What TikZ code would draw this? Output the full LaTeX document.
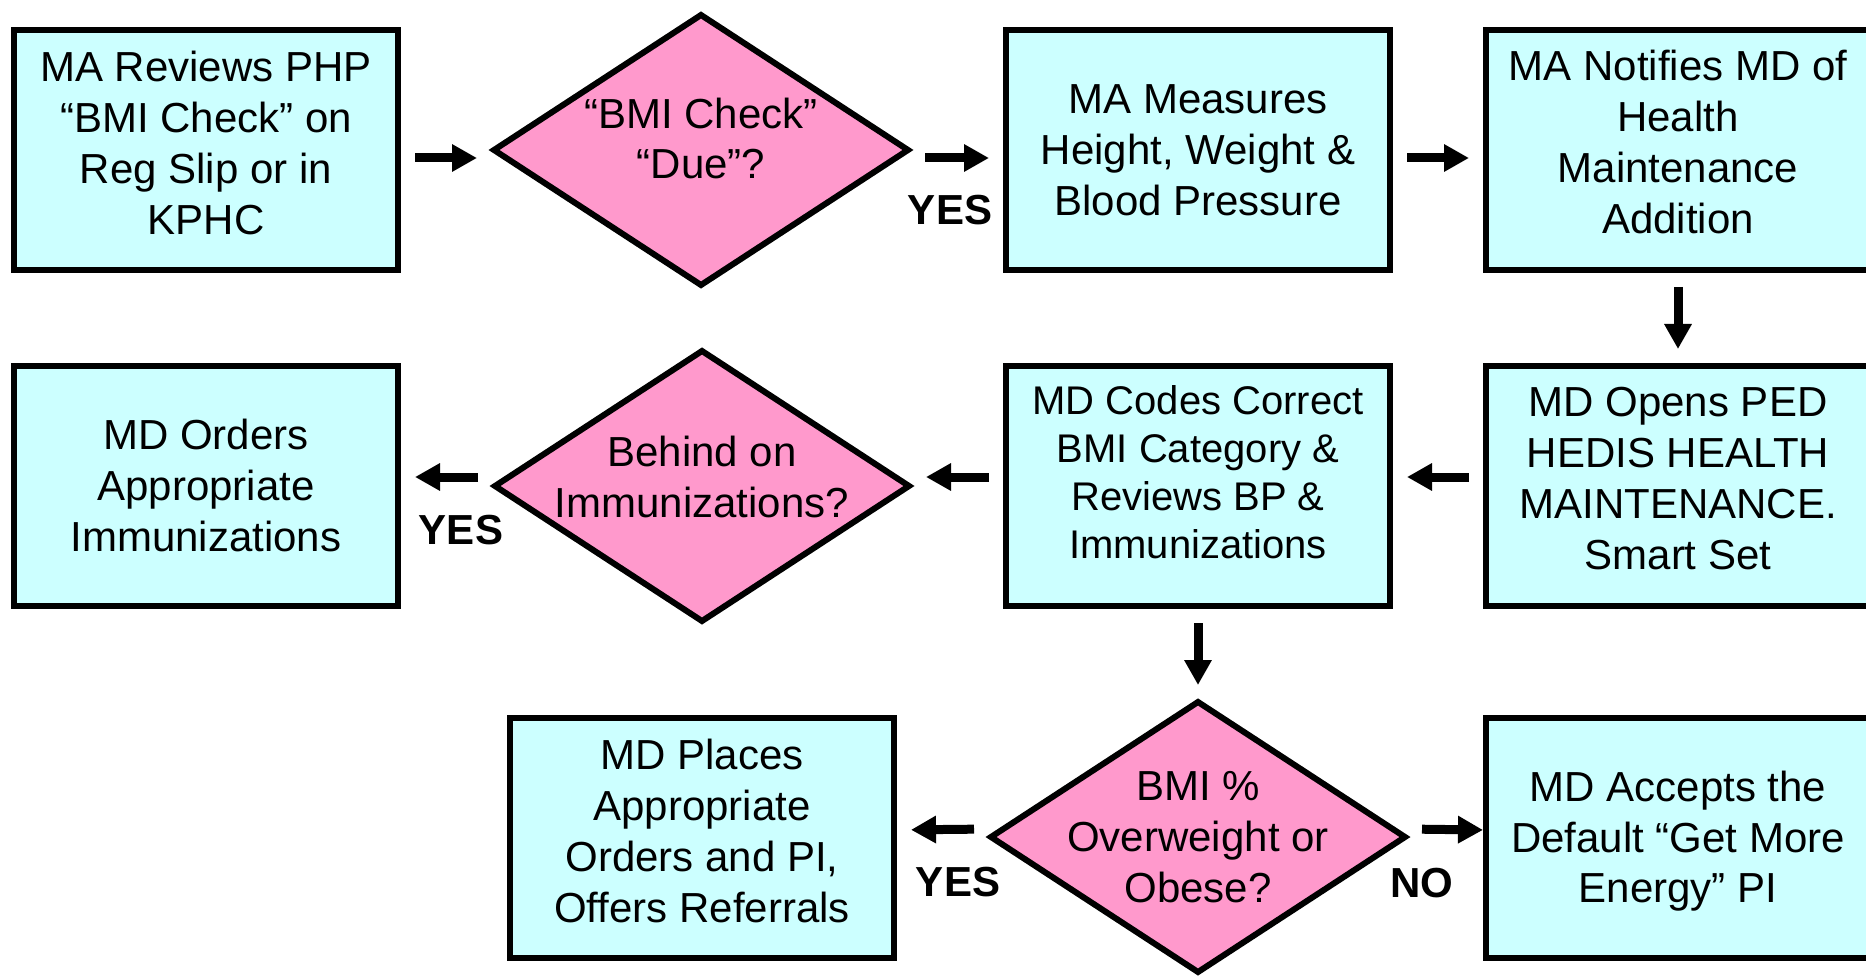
\documentclass[tikz,border=0pt]{standalone}
\usepackage{fontspec}
\setmainfont{Liberation Sans}
\usetikzlibrary{shapes.geometric,arrows.meta}
\definecolor{boxcyan}{HTML}{CCFFFF}
\definecolor{decpink}{HTML}{FF99CC}
\begin{document}
\begin{tikzpicture}[x=1pt,y=-1pt,
  box/.style={draw=black, line width=6pt, fill=boxcyan, rectangle, minimum width=384pt, minimum height=240pt, inner sep=0pt, outer sep=0pt},
  dia/.style={draw=black, line width=6pt, fill=decpink, diamond, minimum width=414pt, minimum height=270pt, inner sep=0pt, outer sep=0pt},
  txt/.style={align=center, inner sep=0pt, outer sep=0pt, font=\fontsize{42}{51}\selectfont},
  lbl/.style={inner sep=0pt, outer sep=0pt, anchor=base, font=\fontsize{42}{51}\selectfont\bfseries},
  arr/.style={line width=9pt, -{Triangle[length=25pt,width=26pt]}, shorten <=17pt, shorten >=17pt}]
\useasboundingbox (0,0) rectangle (1866,976);
\fill[white] (0,0) rectangle (1866,976);

% row 1
\node[box] (A) at (206,150) {};
\node[txt] (At) at ([yshift=7.5pt]A.center) {MA Reviews PHP\\“BMI Check” on\\Reg Slip or in\\KPHC};
\node[dia] (B) at (701,150) {};
\node[txt, font=\fontsize{42}{50}\selectfont] (Bt) at ([yshift=12pt]B.center) {“BMI Check”\\“Due”?};
\node[box] (C) at (1198,150) {};
\node[txt] (Ct) at (C.center) {MA Measures\\Height, Weight \&\\Blood Pressure};
\node[box] (D) at (1678,150) {};
\node[txt] (Dt) at ([yshift=8.5pt]D.center) {MA Notifies MD of\\Health\\Maintenance\\Addition};

% row 2
\node[box] (E) at (206,486) {};
\node[txt] (Et) at ([yshift=1pt]E.center) {MD Orders\\Appropriate\\Immunizations};
\node[dia] (F) at (702,486) {};
\node[txt] (Ft) at ([yshift=9.5pt]F.center) {Behind on\\Immunizations?};
\node[box] (G) at (1198,486) {};
\node[txt, font=\fontsize{40}{48}\selectfont] (Gt) at ([yshift=13.5pt]G.center) {MD Codes Correct\\BMI Category \&\\Reviews BP \&\\Immunizations};
\node[box] (H) at (1678,486) {};
\node[txt] (Ht) at ([yshift=7.5pt]H.center) {MD Opens PED\\HEDIS HEALTH\\MAINTENANCE.\\Smart Set};

% row 3
\node[box] (I) at (702,838) {};
\node[txt] (It) at ([yshift=7.5pt]I.center) {MD Places\\Appropriate\\Orders and PI,\\Offers Referrals};
\node[dia] (J) at (1198,837) {};
\node[txt] (Jt) at ([yshift=0pt]J.center) {BMI \%\\Overweight or\\Obese?};
\node[box] (K) at (1678,838) {};
\node[txt, font=\fontsize{42}{50.5}\selectfont] (Kt) at ([yshift=-3.5pt]K.center) {MD Accepts the\\Default “Get More\\Energy” PI};

% labels
\node[lbl] (y1) at (950,225) {YES};
\node[lbl] (y2) at (461,544) {YES};
\node[lbl] (y3) at (958,896) {YES};
\node[lbl] (n1) at (1422,897) {NO};

% connectors
\draw[arr] ([yshift=-8pt]A.east) -- ([yshift=-8pt]B.west);
\draw[arr] ([yshift=-8pt]B.east) -- ([yshift=-8pt]C.west);
\draw[arr] ([yshift=-8pt]C.east) -- ([yshift=-8pt]D.west);
\draw[arr] (D.south) -- (H.north);
\draw[arr] ([yshift=9pt]H.west) -- ([yshift=9pt]G.east);
\draw[arr] ([yshift=9pt]G.west) -- ([yshift=9pt]F.east);
\draw[arr] ([yshift=9pt]F.west) -- ([yshift=9pt]E.east);
\draw[arr] (G.south) -- (J.north);
\draw[arr] ([yshift=8pt]J.west) -- ([yshift=8pt]I.east);
\draw[arr, shorten >=3pt] ([yshift=8pt]J.east) -- ([yshift=8pt]K.west);
\end{tikzpicture}
\end{document}
